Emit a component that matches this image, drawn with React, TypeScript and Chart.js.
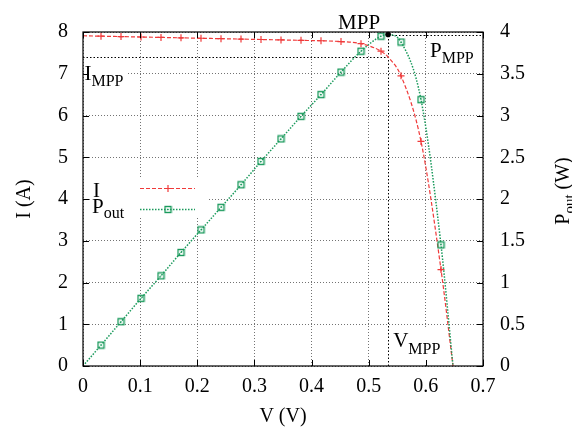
import React, { useEffect, useRef } from "react";
import { Chart, registerables } from "chart.js";

Chart.register(...registerables);

// ---------------- data ----------------
// voltages (V) at which the markers are drawn
const markerVoltage = [
  0.0315, 0.0665, 0.1015, 0.1365, 0.1715, 0.2065, 0.2415, 0.2765, 0.3115,
  0.3465, 0.3815, 0.4165, 0.4515, 0.4865, 0.5215, 0.5565, 0.5915, 0.6265,
];
// current I (A) at those voltages
const markerCurrent = [
  7.9, 7.89, 7.88, 7.87, 7.86, 7.85, 7.84, 7.83, 7.82, 7.81, 7.8, 7.79, 7.77,
  7.72, 7.54, 6.95, 5.38, 2.31,
];
// output power P_out (W) at those voltages
const markerPower = [
  0.25, 0.53, 0.81, 1.08, 1.36, 1.63, 1.9, 2.17, 2.45, 2.72, 2.99, 3.25, 3.52,
  3.77, 3.95, 3.88, 3.19, 1.45,
];
// extra curve points without markers: short circuit, MPP, open circuit
const curveVoltage = [0, 0.534, 0.6475];
const curveCurrent = [7.91, 7.4, 0];
const curvePower = [0, 3.97, 0];

// maximum power point
const V_MPP = 0.534;
const I_MPP = 7.4;
const P_MPP = 3.97;

// tick values
const xTicks = [0, 0.1, 0.2, 0.3, 0.4, 0.5, 0.6, 0.7];
const iTicks = [0, 1, 2, 3, 4, 5, 6, 7, 8];
const pTicks = [0, 0.5, 1, 1.5, 2, 2.5, 3, 3.5, 4];

const RED = "#f03a3a";
const GREEN = "#1a9a5c";
const FONT = '"Liberation Serif", "Times New Roman", serif';

type Pt = { x: number; y: number; m: boolean };

function buildSeries(markY: number[], curveY: number[]): Pt[] {
  const pts: Pt[] = markerVoltage
    .map((x, i) => ({ x, y: markY[i], m: true }))
    .concat(curveVoltage.map((x, i) => ({ x, y: curveY[i], m: false })));
  pts.sort((a, b) => a.x - b.x);
  return pts;
}

function makeSquare(color: string): HTMLCanvasElement {
  const c = document.createElement("canvas");
  c.width = 9;
  c.height = 9;
  const g = c.getContext("2d")!;
  g.strokeStyle = color;
  g.lineWidth = 1.4;
  g.strokeRect(1.5, 1.5, 6, 6);
  g.fillStyle = color;
  g.fillRect(4, 4, 1, 1);
  return c;
}

function drawSub(
  ctx: CanvasRenderingContext2D,
  x: number,
  y: number,
  main: string,
  sub: string,
  size: number,
  subSize: number,
  drop: number,
  align: "left" | "right" | "center" = "left"
) {
  ctx.font = `${size}px ${FONT}`;
  const w1 = ctx.measureText(main).width;
  ctx.font = `${subSize}px ${FONT}`;
  const w2 = ctx.measureText(sub).width;
  let x0 = x;
  if (align === "right") x0 = x - w1 - w2;
  if (align === "center") x0 = x - (w1 + w2) / 2;
  ctx.textAlign = "left";
  ctx.textBaseline = "alphabetic";
  ctx.fillStyle = "#000";
  ctx.font = `${size}px ${FONT}`;
  ctx.fillText(main, x0, y);
  ctx.font = `${subSize}px ${FONT}`;
  ctx.fillText(sub, x0 + w1, y + drop);
  return w1 + w2;
}

const fmt = (v: number) => String(Math.round(v * 10) / 10);

export default function App() {
  const ref = useRef<HTMLCanvasElement>(null);

  useEffect(() => {
    const canvas = ref.current!;
    const square = makeSquare(GREEN);

    const overlay = {
      id: "overlay",
      beforeDatasetsDraw(chart: any) {
        const { ctx, chartArea: a, scales } = chart;
        const xs = scales.x, ys = scales.y, ps = scales.y2;
        ctx.save();
        // opaque boxes behind key and labels
        ctx.fillStyle = "#fff";
        ctx.fillRect(a.left + 7, a.top + 146, 117, 40);
        ctx.fillRect(a.left + 1, ys.getPixelForValue(I_MPP) + 5, 44, 28);
        ctx.fillRect(xs.getPixelForValue(V_MPP) + 2, a.bottom - 38, 56, 37);
        // MPP guide lines
        ctx.strokeStyle = "#000";
        ctx.lineWidth = 1;
        ctx.setLineDash([1.5, 2]);
        const xm = Math.round(xs.getPixelForValue(V_MPP)) + 0.5;
        const yi = Math.round(ys.getPixelForValue(I_MPP)) + 0.5;
        const yp = Math.round(ps.getPixelForValue(P_MPP)) + 0.5;
        ctx.beginPath();
        ctx.moveTo(a.left, yi);
        ctx.lineTo(xm, yi);
        ctx.moveTo(xm, yp);
        ctx.lineTo(xm, a.bottom);
        ctx.moveTo(xm, yp);
        ctx.lineTo(a.right, yp);
        ctx.stroke();
        ctx.restore();
      },
      afterDatasetsDraw(chart: any) {
        const { ctx, chartArea: a, scales } = chart;
        const xs = scales.x, ys = scales.y, ps = scales.y2;
        ctx.save();
        // frame
        ctx.strokeStyle = "#000";
        ctx.lineWidth = 1.2;
        ctx.setLineDash([]);
        ctx.strokeRect(a.left, a.top, a.right - a.left, a.bottom - a.top);
        // inward ticks
        ctx.lineWidth = 1;
        ctx.beginPath();
        xTicks.forEach((v) => {
          const x = Math.round(xs.getPixelForValue(v)) + 0.5;
          ctx.moveTo(x, a.bottom);
          ctx.lineTo(x, a.bottom - 6);
          ctx.moveTo(x, a.top);
          ctx.lineTo(x, a.top + 6);
        });
        iTicks.forEach((v) => {
          const y = Math.round(ys.getPixelForValue(v)) + 0.5;
          ctx.moveTo(a.left, y);
          ctx.lineTo(a.left + 6, y);
        });
        pTicks.forEach((v) => {
          const y = Math.round(ps.getPixelForValue(v)) + 0.5;
          ctx.moveTo(a.right, y);
          ctx.lineTo(a.right - 6, y);
        });
        ctx.stroke();

        // MPP point
        const xm = xs.getPixelForValue(V_MPP);
        const yp = ps.getPixelForValue(P_MPP);
        ctx.fillStyle = "#000";
        ctx.beginPath();
        ctx.arc(xm, yp, 2.8, 0, Math.PI * 2);
        ctx.fill();

        // labels
        ctx.font = `21px ${FONT}`;
        ctx.textAlign = "right";
        ctx.textBaseline = "alphabetic";
        ctx.fillText("MPP", xm - 8, a.top - 3);
        drawSub(ctx, a.right - 53, a.top + 25, "P", "MPP", 21, 16, 6);
        drawSub(ctx, a.left + 1.5, ys.getPixelForValue(I_MPP) + 23, "I", "MPP", 21, 16, 6);
        drawSub(ctx, xm + 5, a.bottom - 19, "V", "MPP", 21, 16, 7);

        // key
        const kx = a.left + 10;
        const y1 = a.top + 156.5;
        const y2 = a.top + 177.5;
        const sx1 = a.left + 57, sx2 = a.left + 112, sm = a.left + 85;
        ctx.font = `21px ${FONT}`;
        ctx.textAlign = "left";
        ctx.fillText("I", kx, a.top + 165);
        drawSub(ctx, kx - 1, a.top + 181, "P", "out", 21, 16, 5);
        ctx.lineWidth = 1.2;
        ctx.strokeStyle = RED;
        ctx.setLineDash([4, 2]);
        ctx.beginPath();
        ctx.moveTo(sx1, y1);
        ctx.lineTo(sx2, y1);
        ctx.stroke();
        ctx.setLineDash([]);
        ctx.beginPath();
        ctx.moveTo(sm - 3.5, y1);
        ctx.lineTo(sm + 3.5, y1);
        ctx.moveTo(sm, y1 - 3.5);
        ctx.lineTo(sm, y1 + 3.5);
        ctx.stroke();
        ctx.strokeStyle = GREEN;
        ctx.lineWidth = 1.5;
        ctx.setLineDash([1.5, 1.5]);
        ctx.beginPath();
        ctx.moveTo(sx1, y2);
        ctx.lineTo(sx2, y2);
        ctx.stroke();
        ctx.setLineDash([]);
        ctx.drawImage(square, sm - 4.5, y2 - 4.5);
        ctx.restore();
      },
      afterDraw(chart: any) {
        const { ctx, chartArea: a } = chart;
        ctx.save();
        ctx.fillStyle = "#000";
        ctx.font = `20px ${FONT}`;
        ctx.textAlign = "center";
        ctx.textBaseline = "alphabetic";
        ctx.fillText("V (V)", (a.left + a.right) / 2, a.bottom + 56);
        // left title
        ctx.save();
        ctx.translate(30, (a.top + a.bottom) / 2);
        ctx.rotate(-Math.PI / 2);
        ctx.fillText("I (A)", 0, 0);
        ctx.restore();
        // right title
        ctx.save();
        ctx.translate(569, (a.top + a.bottom) / 2 - 8);
        ctx.rotate(-Math.PI / 2);
        ctx.font = `20px ${FONT}`;
        const wP = ctx.measureText("P").width;
        ctx.font = `15px ${FONT}`;
        const wo = ctx.measureText("out").width;
        ctx.font = `20px ${FONT}`;
        const wW = ctx.measureText(" (W)").width;
        const total = wP + wo + wW;
        let x0 = -total / 2;
        ctx.textAlign = "left";
        ctx.fillText("P", x0, 0);
        ctx.font = `15px ${FONT}`;
        ctx.fillText("out", x0 + wP, 5);
        ctx.font = `20px ${FONT}`;
        ctx.fillText(" (W)", x0 + wP + wo, 0);
        ctx.restore();
        ctx.restore();
      },
    };

    const chart = new Chart(canvas, {
      type: "line",
      data: {
        datasets: [
          {
            label: "I",
            data: buildSeries(markerCurrent, curveCurrent) as any,
            yAxisID: "y",
            borderColor: RED,
            borderWidth: 1.2,
            borderDash: [4, 2],
            pointStyle: "cross",
            pointRadius: (c: any) => (c.raw && c.raw.m ? 3.5 : 0),
            pointBorderColor: RED,
            pointBorderWidth: 1.2,
            pointHoverRadius: 0,
            cubicInterpolationMode: "monotone",
            fill: false,
            order: 1,
          },
          {
            label: "Pout",
            data: buildSeries(markerPower, curvePower) as any,
            yAxisID: "y2",
            borderColor: GREEN,
            borderWidth: 1.5,
            borderDash: [1.5, 1.5],
            pointStyle: square as any,
            pointRadius: (c: any) => (c.raw && c.raw.m ? 4 : 0),
            pointHoverRadius: 0,
            cubicInterpolationMode: "monotone",
            fill: false,
            order: 0,
          },
        ],
      },
      options: {
        animation: false,
        responsive: false,
        events: [],
        layout: { padding: { top: 32, left: 0, right: 0, bottom: 0 } },
        plugins: { legend: { display: false }, tooltip: { enabled: false } },
        scales: {
          x: {
            type: "linear",
            position: "bottom",
            min: 0,
            max: 0.7,
            afterBuildTicks: (s: any) => {
              s.ticks = xTicks.map((value) => ({ value }));
            },
            afterFit: (s: any) => {
              s.height = 62;
            },
            ticks: {
              callback: (v: any) => fmt(Number(v)),
              color: "#000",
              padding: 9,
              maxRotation: 0,
              autoSkip: false,
              font: { family: FONT, size: 20 },
            },
            grid: { color: "rgba(0,0,0,0.55)", lineWidth: 1, drawTicks: false },
            border: { display: false, dash: [1, 2] },
          },
          y: {
            type: "linear",
            position: "left",
            min: 0,
            max: 8,
            afterBuildTicks: (s: any) => {
              s.ticks = iTicks.map((value) => ({ value }));
            },
            afterFit: (s: any) => {
              s.width = 83;
            },
            ticks: {
              callback: (v: any) => fmt(Number(v)),
              color: "#000",
              padding: 15,
              autoSkip: false,
              font: { family: FONT, size: 20 },
            },
            grid: { color: "rgba(0,0,0,0.55)", lineWidth: 1, drawTicks: false },
            border: { display: false, dash: [1, 2] },
          },
          y2: {
            type: "linear",
            position: "right",
            min: 0,
            max: 4,
            afterBuildTicks: (s: any) => {
              s.ticks = pTicks.map((value) => ({ value }));
            },
            afterFit: (s: any) => {
              s.width = 89;
            },
            ticks: {
              callback: (v: any) => fmt(Number(v)),
              color: "#000",
              padding: 17,
              autoSkip: false,
              font: { family: FONT, size: 20 },
            },
            grid: { drawOnChartArea: false, drawTicks: false },
            border: { display: false },
          },
        },
      } as any,
      plugins: [overlay],
    });
    return () => chart.destroy();
  }, []);

  return (
    <div style={{ position: "fixed", left: 0, top: 0, width: 572, height: 428, background: "#fff" }}>
      <canvas ref={ref} width={572} height={428} style={{ display: "block" }} />
    </div>
  );
}
